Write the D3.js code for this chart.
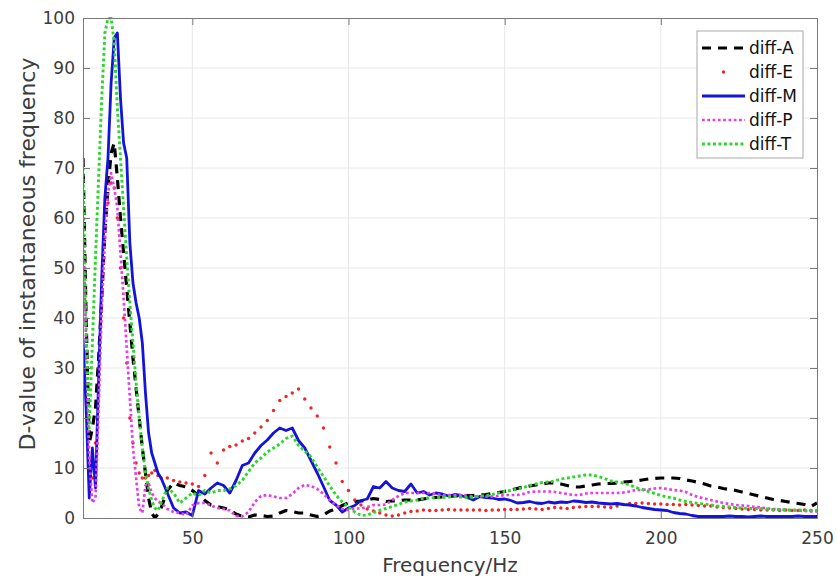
<!DOCTYPE html>
<html>
<head>
<meta charset="utf-8">
<script src="https://cdn.jsdelivr.net/npm/d3@7"></script>
<style>
  html, body { margin: 0; padding: 0; background: #fff; }
  svg { display: block; }
  text { font-family: "DejaVu Sans", "Liberation Sans", Arial, sans-serif; }
</style>
</head>
<body>
<svg id="chart" width="837" height="582"></svg>
<script>
// ---------------- data ----------------
const freq = [
  15,16,17,18,19,20,21,22,23,24,25,26,27,28,29,30,31,32,33,34,35,36,37,38,39,
  40,42,44,46,48,50,52,54,56,58,
  60,62,64,66,68,70,72,74,76,78,
  80,82,84,86,88,90,92,94,96,98,
  100,102,104,106,108,110,112,114,116,118,
  120,122,124,126,128,130,132,134,136,138,
  140,142,144,146,148,150,152,154,156,158,
  160,162,164,166,168,170,172,174,176,178,
  180,182,184,186,188,190,192,194,196,198,
  200,202,204,206,208,210,212,214,216,218,
  220,222,224,226,228,230,232,234,236,238,
  240,242,244,246,248,250
];

const diffA = [
  72,40,15,18,22,32,44,57,66,73,75,68,60,53,46,39,32,26,20,14,9,4,1,0,0.8,
  2,5.5,7,6.5,6.2,5.5,4.5,3.5,2.6,2.3,
  2,1.6,0.8,0.3,0.2,0.6,0.5,0.3,0.4,1,
  1.5,1.3,1,1,0.6,0.3,0.6,1.4,1.8,2.5,
  3,3.3,3.4,3.6,3.9,3.7,3.3,3.4,3.5,3.6,
  3.6,3.6,3.8,4,4.1,4.2,4.3,4.4,4.5,4.5,
  4.5,4.6,4.7,4.9,5.1,5.3,5.6,5.9,6.2,6.4,
  6.6,6.8,7,7,6.8,6.5,6.2,6.2,6.4,6.6,
  6.8,6.9,6.9,7,7.2,7.3,7.4,7.6,7.8,7.9,
  8,8,8,7.9,7.6,7.4,7.1,6.8,6.4,6.2,
  5.9,5.7,5.5,5.2,4.9,4.6,4.3,4,3.7,3.5,
  3.3,3.1,2.9,2.7,2.3,3
];

const diffE = [
  62,32,10,8,15,30,45,56,63,67,66,60,50,40,31,20,15,11,9,8,8,8.5,9,9.5,8.5,
  8,8,7.5,7.2,7,6.8,6.3,8.5,13,11,
  13.6,14.3,14.6,15.4,15.9,17,18.2,19.5,21.5,23.5,
  24.3,25,25.8,23.8,22,20.4,18,14.2,11,7.3,
  5.5,3.6,2.6,1.8,1.4,1,0.6,0.4,0.6,1,
  1.3,1.4,1.6,1.5,1.5,1.6,1.7,1.6,1.6,1.6,
  1.6,1.6,1.5,1.6,1.6,1.7,1.7,1.7,1.8,1.9,
  1.8,1.7,1.9,2.1,2,1.9,2.1,2.2,2.3,2.3,
  2.3,2.2,2.1,2.4,2.7,2.9,2.9,3,2.9,2.8,
  2.8,2.7,2.7,2.6,2.7,2.6,2.5,2.4,2.4,2.2,
  2.1,2,1.9,1.8,1.7,1.7,1.6,1.6,1.6,1.5,
  1.6,1.5,1.5,1.6,1.5,1.5
];

const diffM = [
  36,22,4,14,6,28,48,64,72,87,96,97,84,75,72,55,47,43,40,35,25,17,13,11,9,
  8,5,2,1,1.2,0.5,5.5,4.8,6,7,
  6.5,5,7.5,10.5,11,13,14.5,15.6,17,18,
  17.5,18,15.5,14,11.5,9,6.3,3.5,2.6,1.2,
  2,2.5,3.5,3.8,6.3,6,7.3,6,5.5,5.3,
  6.8,5,5.3,4.6,5,4.8,4.4,4.7,4.5,4.1,
  3.6,4.3,4.1,4,3.7,3.8,3.5,3,3.1,3.3,
  3,2.9,3.2,3,3.2,3.1,3.4,3.3,3.1,3.2,
  3,2.9,2.8,2.9,2.7,2.6,2.4,2.1,1.9,1.7,
  1.6,1.5,1.1,0.9,0.8,0.5,0.3,0.3,0.3,0.3,
  0.3,0.4,0.3,0.3,0.2,0.3,0.4,0.3,0.3,0.3,
  0.3,0.3,0.4,0.3,0.3,0.3
];

const diffP = [
  60,35,12,3,4,22,42,56,65,69,66,62,53,44,34,24,14,8,2,1,6.5,7,5,4,3.3,
  3,1.8,1.2,1,0.6,2.5,3,3,2.5,2,
  1.8,1.5,0.4,0.3,1.2,3.2,4.4,4.6,4.3,4,
  4,4.8,6,6.6,6.4,5.8,4.8,3.6,2.6,1.8,
  1.6,1.9,1.9,2.2,2.6,2.6,2.7,3.6,4.4,5,
  5,5,5,5,4.8,4.6,4.6,4.6,4.6,4.5,
  4.3,4.3,4.3,4.3,4.4,4.6,4.6,4.6,4.8,5.2,
  5.3,5.3,5.3,5.2,5,4.8,4.6,4.6,4.9,5,
  5,5,5,5,5.1,5.3,5.6,5.6,5.7,5.9,
  6,5.8,5.6,5.5,5.2,4.6,4.2,3.9,3.6,3.3,
  3,2.8,2.6,2.5,2.4,2.2,2.1,1.9,1.8,1.7,
  1.6,1.5,1.5,1.4,1.3,1.3
];

const diffT = [
  70,38,18,35,52,68,84,97,100,100,95,82,72,62,52,43,35,27,20,14,9,6,3.5,2,1.5,
  3,6,5,3,4,5,4.5,5.5,5,5.5,
  5.5,5.8,6.5,7.5,9.3,11,12,13.2,14,14.8,
  15.9,16.4,14.5,13.4,12.2,10.2,8.3,6.4,4.6,3.2,
  2.2,1.2,0.5,0.6,1.1,1.5,1.9,2.3,2.7,3.2,
  3.4,3.6,3.9,4,4.1,4.1,4.2,4.3,4.2,4.1,
  4.2,4.4,4.5,4.7,5,5.3,5.5,5.8,6.1,6.5,
  6.8,7.1,7.2,7.4,7.8,8,8.2,8.4,8.6,8.6,
  8.3,7.9,7.4,7.2,7,6.6,6.1,5.7,5.3,4.9,
  4.5,4.2,4,3.6,3.3,3.1,2.9,2.8,2.6,2.4,
  2.3,2.2,2.1,2,1.9,1.9,1.9,1.8,1.7,1.7,
  1.6,1.6,1.6,1.5,1.5,1.5
];

const seriesNames = ["diff-A", "diff-E", "diff-M", "diff-P", "diff-T"];
const seriesValues = [diffA, diffE, diffM, diffP, diffT];
const xTicks = [50, 100, 150, 200, 250];
const yTicks = [0, 10, 20, 30, 40, 50, 60, 70, 80, 90, 100];
const xLabel = "Frequency/Hz";
const yLabel = "D-value of instantaneous frequency";

// ---------------- styles ----------------
const styles = {
  "diff-A": { color: "#000000", width: 3.2, dash: "9,7", kind: "line" },
  "diff-E": { color: "#ee2626", kind: "dot", r: 1.7 },
  "diff-M": { color: "#1414d8", width: 2.8, dash: null, kind: "line" },
  "diff-P": { color: "#e83ce8", width: 2.7, dash: "2.7,2.6", kind: "line" },
  "diff-T": { color: "#2ad82a", width: 2.9, dash: "2.9,2.6", kind: "line" }
};

// ---------------- layout ----------------
const M = { left: 83, right: 817, top: 18, bottom: 518 };
const svg = d3.select("#chart");

const x = d3.scaleLinear().domain([15, 250]).range([M.left, M.right]);
const y = d3.scaleLinear().domain([0, 100]).range([M.bottom, M.top]);

// grid
const grid = svg.append("g");
grid.selectAll("line.gx").data(xTicks.filter(t => t < 250)).enter().append("line")
  .attr("x1", d => x(d)).attr("x2", d => x(d))
  .attr("y1", M.top).attr("y2", M.bottom)
  .attr("stroke", "#e8e8e8").attr("stroke-width", 1);
grid.selectAll("line.gy").data(yTicks.filter(t => t > 0 && t < 100)).enter().append("line")
  .attr("x1", M.left).attr("x2", M.right)
  .attr("y1", d => y(d)).attr("y2", d => y(d))
  .attr("stroke", "#e8e8e8").attr("stroke-width", 1);

// clip
svg.append("clipPath").attr("id", "plotclip").append("rect")
  .attr("x", M.left).attr("y", M.top - 1)
  .attr("width", M.right - M.left).attr("height", M.bottom - M.top + 2);

const plot = svg.append("g").attr("clip-path", "url(#plotclip)");

seriesNames.forEach((name, i) => {
  const st = styles[name];
  const vals = seriesValues[i];
  const pts = freq.map((f, j) => [f, vals[j]]);
  if (st.kind === "line") {
    const line = d3.line().x(d => x(d[0])).y(d => y(d[1]));
    plot.append("path").datum(pts)
      .attr("d", line)
      .attr("fill", "none")
      .attr("stroke", st.color)
      .attr("stroke-width", st.width)
      .attr("stroke-linejoin", "round")
      .attr("stroke-dasharray", st.dash);
  } else {
    plot.append("g").selectAll("circle").data(pts).enter().append("circle")
      .attr("cx", d => x(d[0])).attr("cy", d => y(d[1]))
      .attr("r", st.r).attr("fill", st.color);
  }
});

// axes
const axisColor = "#7a7a7a";
const textColor = "#3c3c3c";
const tickLen = 7;
const fontFam = '"DejaVu Sans", "Liberation Sans", Arial, sans-serif';

const gx = svg.append("g").attr("transform", `translate(0,${M.bottom})`)
  .call(d3.axisBottom(x).tickValues(xTicks).tickSize(-tickLen).tickPadding(14).tickSizeOuter(0));
const gy = svg.append("g").attr("transform", `translate(${M.left},0)`)
  .call(d3.axisLeft(y).tickValues(yTicks).tickSize(-tickLen).tickPadding(8).tickSizeOuter(0));
const gxt = svg.append("g").attr("transform", `translate(0,${M.top})`)
  .call(d3.axisTop(x).tickValues(xTicks).tickSize(-tickLen).tickFormat("").tickSizeOuter(0));
const gyr = svg.append("g").attr("transform", `translate(${M.right},0)`)
  .call(d3.axisRight(y).tickValues(yTicks).tickSize(-tickLen).tickFormat("").tickSizeOuter(0));

[gx, gy, gxt, gyr].forEach(g => {
  g.select(".domain").attr("stroke", axisColor).attr("stroke-width", 1);
  g.selectAll(".tick line").attr("stroke", axisColor);
  g.selectAll(".tick text").attr("fill", textColor).style("font-size", "17px")
    .style("font-family", fontFam);
});

// axis labels
svg.append("text")
  .attr("x", 450).attr("y", 572)
  .attr("text-anchor", "middle").attr("fill", textColor)
  .style("font-size", "20px").style("font-family", fontFam).text(xLabel);
svg.append("text")
  .attr("transform", `translate(35,254) rotate(-90)`)
  .attr("text-anchor", "middle").attr("fill", textColor)
  .style("font-size", "22px").style("font-family", fontFam).text(yLabel);

// legend
const L = { x: 697, y: 31, w: 106, h: 127, row: 24, first: 17 };
const lg = svg.append("g");
lg.append("rect").attr("x", L.x).attr("y", L.y).attr("width", L.w).attr("height", L.h)
  .attr("fill", "#fff").attr("stroke", "#a8a8a8").attr("stroke-width", 1);
seriesNames.forEach((name, i) => {
  const st = styles[name];
  const cy = L.y + L.first + i * L.row;
  const x1 = L.x + 5, x2 = L.x + 48;
  if (st.kind === "line") {
    lg.append("line").attr("x1", x1).attr("x2", x2).attr("y1", cy).attr("y2", cy)
      .attr("stroke", st.color).attr("stroke-width", st.width)
      .attr("stroke-dasharray", st.dash);
  } else {
    lg.append("circle").attr("cx", (x1 + x2) / 2).attr("cy", cy).attr("r", st.r).attr("fill", st.color);
  }
  lg.append("text").attr("x", L.x + 52).attr("y", cy + 6)
    .attr("fill", "#111").style("font-size", "17px").style("font-family", fontFam).text(name);
});
</script>
</body>
</html>
